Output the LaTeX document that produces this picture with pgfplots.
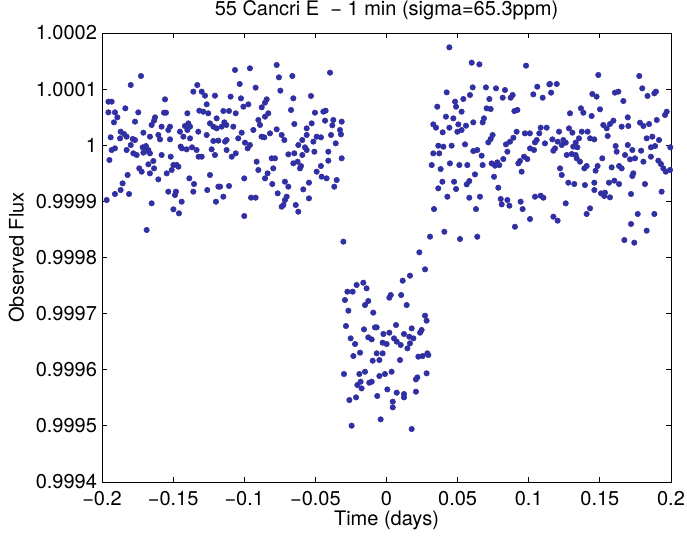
\documentclass[border=0pt]{standalone}
\usepackage{fontspec}
\setmainfont{TeX Gyre Heros}
\usepackage{pgfplots}
\pgfplotsset{compat=1.18}
\definecolor{dotfill}{RGB}{40,50,170}
\definecolor{dotedge}{RGB}{65,45,150}
% time in days; flux given as (flux-1) in ppm to keep full precision
\begin{document}
\begin{tikzpicture}
\begin{axis}[
  at={(0,0)}, anchor=south west,
  scale only axis, width=284.5pt, height=224.5pt,
  xmin=-0.2, xmax=0.2, ymin=-600, ymax=200,
  xtick={-0.2,-0.15,-0.1,-0.05,0,0.05,0.1,0.15,0.2},
  xticklabels={−0.2,−0.15,−0.1,−0.05,0,0.05,0.1,0.15,0.2},
  ytick={-600,-500,-400,-300,-200,-100,0,100,200},
  yticklabels={0.9994,0.9995,0.9996,0.9997,0.9998,0.9999,1,1.0001,1.0002},
  tick align=inside, major tick length=2.5pt,
  tick style={black, thin},
  axis line style={black, thin},
  every tick label/.append style={font=\fontsize{10}{11}\selectfont},
  yticklabel style={xshift=1pt},
  xticklabel style={yshift=-1pt},
  label style={font=\fontsize{10}{11}\selectfont},
  title style={font=\fontsize{10}{11}\selectfont, yshift=-3pt},
  title={55 Cancri E \ − 1 min (sigma=65.3ppm)},
  xlabel={Time (days)},
  ylabel={Observed Flux},
  xlabel style={yshift=4pt},
  ylabel style={yshift=-1pt},
]
\addplot[only marks, mark=*, mark size=1.35pt, mark options={draw=dotedge, fill=dotfill, line width=0.3pt}] table {
x y
-0.1726 123.4
-0.1798 107.3
-0.1955 77.6
-0.1932 77.6
-0.1955 58.6
-0.1909 58.6
-0.1836 65.8
-0.1745 58.6
-0.1916 40.8
-0.1892 49.7
-0.1768 42.0
-0.1557 81.8
-0.1564 58.0
-0.1550 58.0
-0.1627 49.7
-0.1634 43.8
-0.1651 36.1
-0.1581 33.1
-0.1522 33.1
-0.1534 27.2
-0.1358 95.5
-0.1330 107.3
-0.1299 95.5
-0.1276 88.3
-0.1264 72.9
-0.1206 88.3
-0.1316 61.6
-0.1288 59.8
-0.1253 56.9
-0.1400 56.9
-0.1393 39.0
-0.1417 34.3
-0.1381 33.1
-0.1241 39.0
-0.1217 33.1
-0.1194 30.1
-0.1194 47.9
-0.1939 14.1
-0.1869 24.2
-0.1845 20.0
-0.1873 12.3
-0.1827 15.3
-0.1784 11.1
-0.1709 22.4
-0.1798 0.4
-0.1768 9.3
-0.1663 15.3
-0.1604 18.3
-0.1592 10.5
-0.1522 10.5
-0.1452 24.2
-0.1428 15.3
-0.1400 27.2
-0.1381 12.3
-0.1323 24.2
-0.1264 18.3
-0.1217 7.6
-0.1182 8.2
-0.1932 -8.5
-0.1909 -5.5
-0.1948 -26.3
-0.1827 -8.5
-0.1780 -14.4
-0.1756 -17.4
-0.1714 -3.7
-0.1686 -9.7
-0.1691 -1.4
-0.1674 -8.5
-0.1663 -14.4
-0.1581 -17.4
-0.1517 -20.4
-0.1447 -2.5
-0.1438 -5.5
-0.1405 -7.3
-0.1367 -3.7
-0.1335 -8.5
-0.1321 -20.4
-0.1299 -20.4
-0.1229 -7.3
-0.1206 -17.4
-0.1721 -47.1
-0.1674 -34.0
-0.1639 -28.1
-0.1634 -41.2
-0.1663 -50.1
-0.1604 -60.8
-0.1545 -50.1
-0.1510 -44.1
-0.1498 -35.2
-0.1475 -35.2
-0.1463 -38.2
-0.1820 -53.0
-0.1855 -67.9
-0.1869 -79.8
-0.1909 -86.9
-0.1810 -86.9
-0.1967 -97.6
-0.1651 -103.5
-0.1534 -82.7
-0.1480 -82.7
-0.1487 -88.7
-0.1498 -114.2
-0.1459 -121.3
-0.1440 -100.6
-0.1386 -59.0
-0.1353 -69.1
-0.1358 -82.7
-0.1260 -79.8
-0.1241 -53.0
-0.1199 -100.6
-0.1182 -73.8
-0.1686 -151.0
-0.1738 -41.2
-0.1709 -13.2
-0.1065 134.1
-0.0960 137.1
-0.0772 143.0
-0.0756 121.0
-0.0662 123.4
-0.0397 129.3
-0.1032 109.1
-0.0920 102.6
-0.0746 97.3
-0.1096 86.6
-0.1023 83.6
-0.0971 72.9
-0.1006 68.7
-0.0842 81.8
-0.0854 75.9
-0.0877 67.6
-0.0655 83.6
-0.0531 87.8
-0.1147 61.0
-0.1107 61.0
-0.1060 56.9
-0.0901 45.0
-0.0831 56.9
-0.0854 50.9
-0.0671 62.8
-0.0648 37.8
-0.0503 58.0
-0.0444 59.8
-0.0428 61.6
-0.0432 43.8
-0.0374 45.0
-0.0315 42.0
-0.0381 35.5
-0.1140 40.8
-0.1159 33.1
-0.1126 36.1
-0.1077 33.1
-0.1018 22.4
-0.0936 27.2
-0.0889 36.1
-0.0772 28.3
-0.0737 18.3
-0.0718 9.3
-0.0819 21.2
-0.0561 30.1
-0.0526 39.0
-0.0561 18.3
-0.0491 15.3
-0.0461 14.1
-0.0390 18.3
-0.0327 27.2
-0.0320 19.4
-0.1124 9.3
-0.1042 12.3
-0.0995 4.6
-0.0960 0.4
-0.0976 -5.5
-0.1135 6.4
-0.0878 15.3
-0.0859 14.1
-0.0620 0.4
-0.0592 9.3
-0.0573 -3.7
-0.0514 6.4
-0.0507 -11.5
-0.0561 -8.5
-0.0592 -17.4
-0.0648 -14.4
-0.0409 -11.5
-0.0357 3.4
-0.1124 -8.5
-0.1060 -14.4
-0.1088 -20.4
-0.0807 -23.3
-0.0784 -23.3
-0.0913 -29.3
-0.0690 -16.2
-0.0655 -32.2
-0.0625 -29.3
-0.0601 -37.0
-0.0608 -41.2
-0.0409 -27.5
-0.0315 -23.3
-0.0461 -37.0
-0.0491 -47.1
-0.0901 -44.1
-0.0796 -41.2
-0.0836 -50.1
-0.0854 -59.0
-0.1000 -59.0
-0.0803 -69.1
-0.0714 -64.9
-0.0690 -73.8
-0.0545 -66.7
-0.0585 -78.6
-0.0456 -56.0
-0.0421 -59.0
-0.0350 -62.0
-0.0367 -73.8
-0.1170 -73.8
-0.1107 -72.6
-0.0765 -85.7
-0.0702 -91.6
-0.0714 -97.6
-0.0725 -106.5
-0.0737 -109.5
-0.0638 -106.5
-0.0620 -118.4
-0.0545 -94.6
-0.0952 -93.4
-0.0920 -93.4
-0.1147 -91.6
-0.1000 -126.1
-0.0303 -171.8
0.0306 -162.9
0.0231 -190.8
0.0271 -221.1
0.0165 -232.4
0.0114 -241.3
-0.0163 -244.9
-0.0210 -249.0
-0.0140 -255.0
-0.0275 -260.9
-0.0238 -260.9
-0.0292 -275.8
0.0030 -266.9
0.0020 -271.6
0.0103 -266.9
-0.0128 -277.5
-0.0151 -284.7
0.0142 -284.7
-0.0268 -294.8
-0.0093 -298.3
0.0271 -303.7
0.0282 -312.6
-0.0285 -322.1
-0.0158 -328.0
-0.0081 -324.5
-0.0069 -324.5
0.0067 -320.3
0.0177 -326.3
0.0247 -329.2
0.0236 -334.0
-0.0252 -344.1
-0.0128 -342.3
-0.0104 -345.9
-0.0022 -336.3
0.0020 -334.0
0.0053 -344.1
0.0123 -336.3
0.0160 -341.1
0.0189 -344.1
-0.0221 -354.2
-0.0027 -351.8
0.0001 -354.2
0.0072 -350.0
0.0100 -355.9
0.0165 -353.0
0.0147 -361.9
-0.0233 -375.6
-0.0186 -369.6
-0.0069 -370.8
-0.0027 -370.8
-0.0097 -383.9
-0.0050 -382.7
0.0095 -382.7
0.0224 -376.7
0.0254 -375.6
0.0287 -370.8
0.0294 -373.8
-0.0299 -407.6
-0.0191 -407.6
-0.0151 -403.5
-0.0050 -411.2
-0.0011 -407.6
0.0036 -403.5
-0.0205 -427.2
-0.0182 -421.3
-0.0175 -433.2
-0.0121 -423.1
-0.0104 -421.3
0.0207 -417.1
0.0217 -413.6
0.0282 -406.4
0.0006 -435.0
0.0072 -440.9
0.0123 -443.3
0.0123 -449.2
0.0207 -439.1
-0.0065 -446.8
-0.0214 -449.2
-0.0261 -454.0
0.0044 -456.9
0.0044 -467.0
-0.0245 -499.7
-0.0041 -488.4
0.0177 -505.6
0.0442 174.4
0.0599 147.1
0.0653 144.1
0.0981 141.8
0.0423 94.2
0.0606 103.1
0.0699 103.1
0.0770 101.4
0.0833 98.4
0.0587 89.5
0.0540 82.4
0.0482 77.6
0.0489 68.7
0.0357 68.7
0.0723 82.4
0.0817 84.7
0.0873 84.7
0.0887 89.5
0.1060 104.3
0.1032 90.7
0.1098 84.7
0.1145 108.5
0.0704 65.7
0.0732 64.5
0.0899 60.9
0.0920 62.8
0.0528 59.8
0.0418 50.9
0.0470 47.9
0.0685 47.9
0.0676 40.8
0.0610 40.8
0.0329 37.2
0.0348 31.3
0.0395 23.0
0.0442 31.3
0.0505 37.2
0.0498 24.1
0.0528 27.1
0.0559 34.8
0.0746 18.2
0.0732 11.1
0.0716 5.1
0.0915 24.1
0.0973 21.2
0.1008 21.2
0.1074 21.2
0.1084 31.3
0.1126 31.3
0.1056 9.3
0.1044 5.1
0.0892 13.4
0.0868 6.3
0.0840 1.6
0.0850 -11.5
0.1114 3.3
0.0364 -0.8
0.0400 -2.6
0.0458 -0.8
0.0552 1.6
0.0610 -10.3
0.0638 -8.5
0.0669 -18.6
0.0329 -14.5
0.0371 -14.5
0.0318 -35.3
0.0381 -42.4
0.0446 -32.3
0.0512 -35.3
0.0568 -35.3
0.0676 -35.3
0.0739 -32.3
0.0763 -36.4
0.0793 -35.3
0.0779 -30.5
0.0821 -24.6
0.0927 -32.3
0.0938 -28.1
0.0967 -20.4
0.0990 -24.6
0.1009 -5.6
0.1037 -8.5
0.0950 -47.1
0.0756 -56.1
0.0622 -51.9
0.0393 -65.0
0.0475 -65.0
0.0489 -78.0
0.0564 -69.7
0.0582 -63.8
0.0364 -76.8
0.0786 -75.7
0.0428 -91.7
0.0582 -93.5
0.0657 -91.7
0.0803 -95.8
0.0850 -97.6
0.0810 -105.4
0.0864 -107.7
0.0943 -100.6
0.1044 -91.7
0.1084 -89.9
0.1103 -93.5
0.0334 -113.7
0.0629 -113.7
0.0957 -113.7
0.1009 -131.5
0.0903 -145.2
0.0407 -154.1
0.0517 -167.1
0.0638 -163.0
0.1489 125.2
0.1777 123.4
0.1149 109.1
0.1197 109.1
0.1157 93.7
0.1798 101.4
0.1883 92.5
0.1894 95.5
0.1835 87.8
0.1447 91.3
0.1477 86.6
0.1606 93.7
0.1630 95.5
0.1665 78.8
0.1367 65.8
0.1384 58.0
0.1501 64.0
0.1290 56.9
0.1442 52.1
0.1696 49.7
0.1782 40.2
0.1806 34.3
0.1846 37.8
0.1900 45.0
0.1958 53.9
0.1970 59.8
0.1595 43.8
0.1571 37.8
0.1524 36.1
0.1548 30.1
0.1653 33.1
0.1700 34.3
0.1213 24.2
0.1283 30.1
0.1307 22.4
0.1373 24.2
0.1414 24.2
0.1431 12.3
0.1461 10.5
0.1353 12.3
0.1330 4.6
0.1555 16.5
0.1166 10.5
0.1203 6.4
0.1243 9.3
0.1260 4.6
0.1232 0.4
0.1185 -5.5
0.1173 -9.7
0.1313 -2.5
0.1342 -3.7
0.1829 12.3
0.1869 15.3
0.1916 9.3
0.1888 -1.4
0.1859 -3.7
0.1995 -3.7
0.1611 -1.4
0.1618 -11.5
0.1696 0.4
0.1790 -9.7
0.1728 -8.5
0.1747 -23.3
0.1806 -29.3
0.1859 -20.4
0.1677 -17.4
0.1712 -25.1
0.1517 -23.3
0.1267 -17.4
0.1302 -15.6
0.1330 -17.4
0.1337 -23.3
0.1360 -29.3
0.1407 -37.0
0.1391 -41.2
0.1484 -37.0
0.1470 -45.3
0.1583 -39.4
0.1635 -37.0
0.1653 -41.2
0.1735 -50.1
0.1728 -54.8
0.1911 -27.5
0.1929 -33.4
0.1946 -41.2
0.1963 -47.1
0.1993 -44.1
0.1220 -41.2
0.1232 -53.0
0.1278 -66.7
0.1320 -69.1
0.1395 -70.9
0.1461 -66.7
0.1564 -66.7
0.1602 -63.1
0.1635 -69.1
0.1817 -69.1
0.1461 -79.8
0.1508 -85.7
0.1531 -90.4
0.1536 -84.5
0.1571 -92.8
0.1719 -86.9
0.1934 -82.7
0.1260 -103.5
0.1431 -112.4
0.1407 -122.5
0.1173 -127.3
0.1203 -134.4
0.1766 -122.5
0.1883 -122.5
0.1719 -140.3
0.1829 -152.2
0.1672 -168.9
0.1742 -173.6
};
\end{axis}
\pgfresetboundingbox
\path[use as bounding box] (-51pt,-27pt) rectangle (292.5pt,241pt);
\end{tikzpicture}
\end{document}
